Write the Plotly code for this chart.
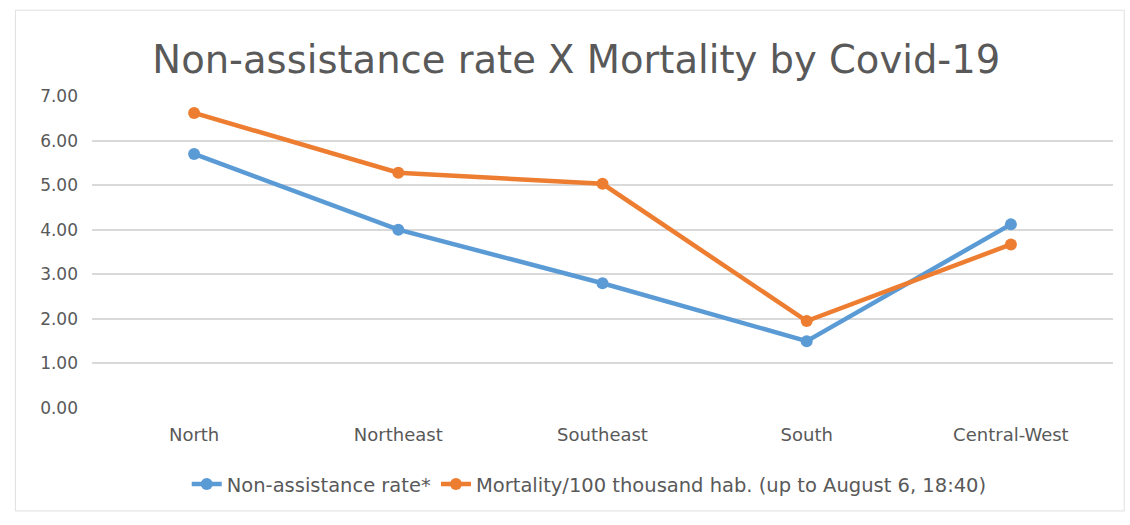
import plotly.graph_objects as go

regions = ["North", "Northeast", "Southeast", "South", "Central-West"]
non_assistance = [5.70, 4.00, 2.80, 1.50, 4.12]
mortality = [6.62, 5.28, 5.03, 1.95, 3.67]
y_ticks = [0, 1, 2, 3, 4, 5, 6, 7]
y_tick_labels = ["0.00", "1.00", "2.00", "3.00", "4.00", "5.00", "6.00", "7.00"]

font_family = "'DejaVu Sans', sans-serif"
text_gray = "#595959"

fig = go.Figure()
fig.add_trace(go.Scatter(
    x=list(range(len(regions))), y=non_assistance, mode="lines+markers",
    name="Non-assistance rate*",
    line=dict(color="#5B9BD5", width=4.5),
    marker=dict(size=12, color="#5B9BD5"),
))
fig.add_trace(go.Scatter(
    x=list(range(len(regions))), y=mortality, mode="lines+markers",
    name="Mortality/100 thousand hab. (up to August 6, 18:40)",
    line=dict(color="#ED7D31", width=4.5),
    marker=dict(size=12, color="#ED7D31"),
))

fig.update_layout(
    width=1130, height=525,
    margin=dict(l=92, r=17, t=96, b=117),
    paper_bgcolor="white", plot_bgcolor="white",
    font=dict(family=font_family, color=text_gray, size=16),
    title=dict(text="Non-assistance rate X Mortality by Covid-19",
               x=0.51, xanchor="center", y=0.886, yanchor="middle",
               font=dict(size=38.5, color=text_gray, family=font_family)),
    xaxis=dict(tickmode="array", tickvals=list(range(len(regions))), ticktext=regions,
               range=[-0.5, 4.5], showgrid=False, zeroline=False, showline=False,
               ticks="", ticklabelstandoff=14, tickfont=dict(size=18, color=text_gray)),
    yaxis=dict(tickmode="array", tickvals=y_ticks, ticktext=y_tick_labels,
               range=[0, 7], showgrid=True, gridcolor="#D9D9D9", gridwidth=2,
               zeroline=False, showline=False, ticks="", ticklabelstandoff=13,
               tickfont=dict(size=17, color=text_gray)),
    legend=dict(orientation="h", x=0.487, xanchor="center", y=-0.245, yanchor="middle",
                font=dict(size=19.5, color=text_gray), itemwidth=30,
                traceorder="normal"),
    showlegend=True,
)

# Thin outline of the chart area
fig.add_shape(type="rect", xref="paper", yref="paper",
              x0=-0.075, x1=1.011, y0=-0.33, y1=1.275,
              line=dict(color="#E0E0E0", width=1), fillcolor="rgba(0,0,0,0)",
              layer="below")

fig.write_html("out.html")
